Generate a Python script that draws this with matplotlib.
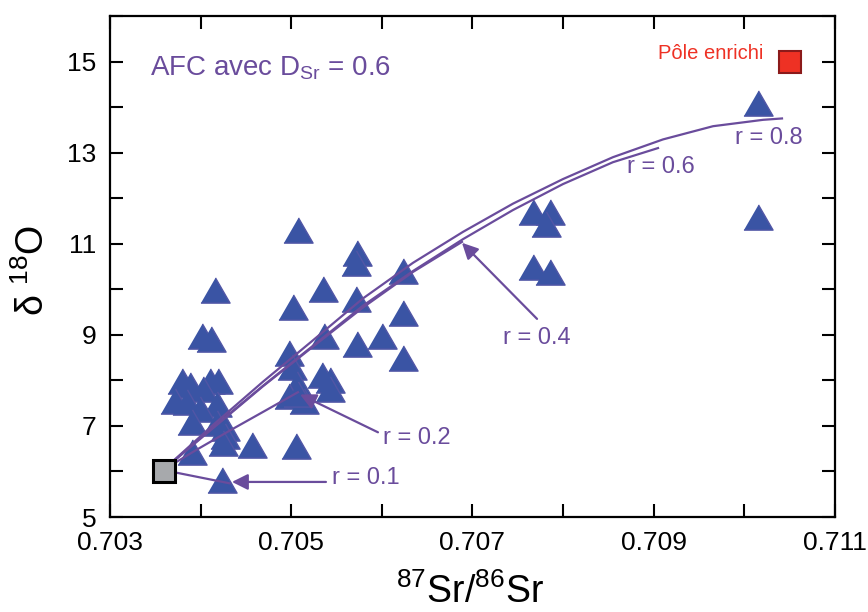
import matplotlib
matplotlib.use('Agg')
import matplotlib.pyplot as plt
from matplotlib.ticker import MultipleLocator

plt.rcParams['font.family'] = ['Liberation Sans', 'DejaVu Sans']
plt.rcParams['mathtext.default'] = 'regular'

# sample data (87Sr/86Sr, d18O)
sr = [0.70380, 0.70388, 0.70410, 0.70419, 0.70403, 0.70372, 0.70385, 0.70418,
      0.70399, 0.70390, 0.70418, 0.70427, 0.70427, 0.70425, 0.70390, 0.70457,
      0.70424, 0.70416, 0.70402, 0.70411,
      0.70508, 0.70573, 0.70571, 0.70623, 0.70535, 0.70571, 0.70502, 0.70623,
      0.70536, 0.70600, 0.70573, 0.70623, 0.70498, 0.70501, 0.70534, 0.70543,
      0.70543, 0.70506, 0.70498, 0.70514, 0.70508, 0.70505,
      0.70767, 0.70786, 0.70781, 0.70767, 0.70786, 0.71015, 0.71015]
d18o = [7.98, 7.89, 7.98, 7.98, 7.82, 7.54, 7.52, 7.49,
        7.38, 7.08, 7.06, 6.95, 6.77, 6.62, 6.42, 6.58,
        5.81, 9.99, 8.98, 8.90,
        11.30, 10.80, 10.58, 10.40, 10.01, 9.79, 9.60, 9.49,
        8.98, 8.98, 8.79, 8.50, 8.61, 8.30, 8.11, 8.00,
        7.82, 7.93, 7.65, 7.54, 7.70, 6.55,
        11.70, 11.70, 11.43, 10.49, 10.38, 14.08, 11.59]

# end members
pole_sain = (0.7036, 6.0)
pole_enrichi = (0.71050, 15.0)

# AFC curves
r08_x = [0.703585, 0.704137, 0.704688, 0.705240, 0.705792, 0.706343, 0.706895,
         0.707447, 0.707999, 0.708550, 0.709102, 0.709654, 0.710206, 0.710415]
r08_y = [6.03, 7.02, 7.97, 8.88, 9.80, 10.58, 11.26, 11.88, 12.42, 12.90, 13.29,
         13.58, 13.72, 13.75]
r06_x = [0.703585, 0.704137, 0.704688, 0.705240, 0.705792, 0.706343, 0.706895,
         0.707447, 0.707999, 0.708550, 0.709047]
r06_y = [6.03, 6.97, 7.88, 8.76, 9.64, 10.40, 11.10, 11.74, 12.31, 12.79, 13.10]
r04_x = [0.703585, 0.704137, 0.704688, 0.705240, 0.705792, 0.706343, 0.706884]
r04_y = [6.03, 6.95, 7.87, 8.74, 9.60, 10.38, 11.04]
r02_x = [0.703585, 0.703950, 0.704324, 0.704700, 0.705074]
r02_y = [6.03, 6.47, 6.90, 7.32, 7.74]
r01_x = [0.70359, 0.70432]
r01_y = [6.03, 5.74]

purple = '#6A4C9C'
blue = '#3A54A4'

fig = plt.figure(figsize=(8.68, 6.12), dpi=100)
ax = fig.add_axes([0.1267, 0.1552, 0.8353, 0.8187])

tri = [(-0.5, -0.433), (0.5, -0.433), (0.0, 0.433)]
ax.scatter(sr, d18o, marker=tri, s=440, c=blue, edgecolors='#5156A6',
           linewidths=1, zorder=2)

for cx, cy in [(r08_x, r08_y), (r06_x, r06_y), (r04_x, r04_y), (r02_x, r02_y), (r01_x, r01_y)]:
    ax.plot(cx, cy, color=purple, lw=1.6, zorder=3)

ax.plot(*pole_sain, marker='s', ms=16, mfc='#A7A9AC', mec='black', mew=2.2, zorder=5)
ax.plot(*pole_enrichi, marker='s', ms=16, mfc='#EE3124', mec='#8B1A1A', mew=1.5, zorder=5)

arrow = dict(arrowstyle='-|>', color=purple, lw=1.6, mutation_scale=24, shrinkA=0, shrinkB=0)
ax.annotate('', xy=(0.704346, 5.77), xytext=(0.705383, 5.77), arrowprops=arrow, zorder=4)
ax.annotate('', xy=(0.705097, 7.69), xytext=(0.705957, 6.86), arrowprops=arrow, zorder=4)
ax.annotate('', xy=(0.706884, 11.02), xytext=(0.707712, 9.35), arrowprops=arrow, zorder=4)

tk = dict(color=purple, fontsize=17, va='center', ha='left')
ax.text(0.705450, 5.85, 'r = 0.1', **tk)
ax.text(0.706012, 6.73, 'r = 0.2', **tk)
ax.text(0.707337, 8.94, 'r = 0.4', **tk)
ax.text(0.708705, 12.68, 'r = 0.6', **tk)
ax.text(0.709897, 13.32, 'r = 0.8', **tk)

ax.text(0.703441, 14.85, r'AFC avec D$_{\mathregular{Sr}}$ = 0.6', color=purple,
        fontsize=20, va='center', ha='left')
ax.text(0.710206, 15.17, 'Pôle enrichi', color='#EE3124', fontsize=14.5,
        va='center', ha='right')

ax.set_xlim(0.703, 0.711)
ax.set_ylim(5, 16)
ax.xaxis.set_minor_locator(MultipleLocator(0.001))
ax.yaxis.set_minor_locator(MultipleLocator(1))
ax.set_xticks([0.703, 0.705, 0.707, 0.709, 0.711])
ax.set_xticklabels(['0.703', '0.705', '0.707', '0.709', '0.711'])
ax.set_yticks([5, 7, 9, 11, 13, 15])
ax.tick_params(which='both', direction='in', length=9.5, width=1.5,
               top=True, right=True, labelsize=19, pad=10)
for s in ax.spines.values():
    s.set_linewidth(1.6)

ax.set_xlabel(r'$^{87}$Sr/$^{86}$Sr', fontsize=27)
ax.set_ylabel(r'δ $^{18}$O', fontsize=27)
ax.xaxis.set_label_coords(0.497, -0.112)
ax.yaxis.set_label_coords(-0.08, 0.493)

fig.savefig('out.png', dpi=100)
